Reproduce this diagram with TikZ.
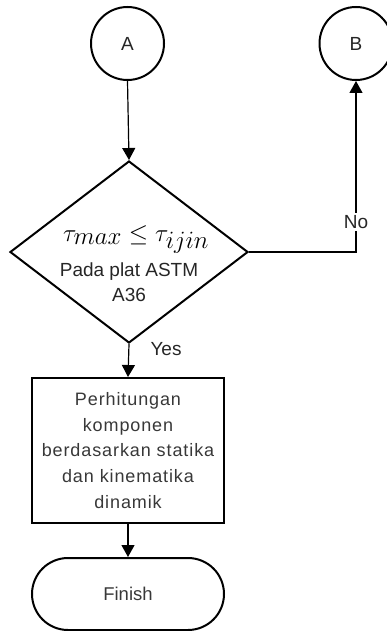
\documentclass[tikz,border=0pt]{standalone}
\usepackage{fontspec}
\setmainfont{Liberation Sans}
\newfontfamily\boxfont[LetterSpace=5]{Liberation Sans}
\usetikzlibrary{shapes.geometric,arrows.meta}
\definecolor{txtgray}{HTML}{383838}
\tikzset{
  shapeline/.style={draw=black,line width=2pt},
  connector/.style={line width=1.2pt,-{Triangle[length=12pt,width=13pt]}},
  connectorcircle/.style={shapeline,circle,minimum size=73pt,inner sep=0pt,
    font=\fontsize{19}{22}\selectfont,text=black!85},
  decision/.style={shapeline,diamond,minimum width=238pt,minimum height=182pt,inner sep=0pt},
  process/.style={shapeline,rectangle,minimum width=192pt,minimum height=145pt,inner sep=0pt,
    align=center,text=txtgray,font=\boxfont\fontsize{18}{25.6}\selectfont},
  terminal/.style={shapeline,rectangle,rounded corners=36pt,minimum width=192pt,minimum height=72pt,
    inner sep=0pt,text=txtgray,font=\fontsize{18.5}{21}\selectfont},
  edgelabel/.style={font=\fontsize{19}{22}\selectfont,text=black!85,inner sep=1pt},
}
\begin{document}
\begin{tikzpicture}[x=1pt,y=-1pt]
  \useasboundingbox (0,0) rectangle (387,631);
  % connectors A and B
  \node[connectorcircle] (A) at (127.5,43.5) {A};
  \node[connectorcircle] (B) at (356,43.5) {B};
  % decision on the shear stress
  \node[decision] (dec) at (129,252) {};
  \node[anchor=base,inner sep=0pt] (cond) at (136,241)
    {\fontsize{36}{40}\selectfont$\tau_{max}\leq\tau_{ijin}$};
  \node[align=center,text=black!85,font=\fontsize{19}{25}\selectfont] (plate) at (129,282)
    {Pada plat ASTM\\A36};
  % calculation step
  \node[process] (calc) at (128,450.5)
    {Perhitungan\\komponen\\berdasarkan statika\\dan kinematika\\dinamik};
  % end of the flow
  \node[terminal] (fin) at (128,594) {Finish};
  % flow lines
  \draw[connector] (A.south) -- (dec.north);
  \draw[connector] (dec.south) -- (calc.north);
  \node[edgelabel] (yes) at (166,349) {Yes};
  \draw[connector] (calc.south) -- (fin.north);
  \draw[connector] (dec.east) -| (B.south);
  \node[edgelabel,fill=white,inner sep=2pt] (no) at (356,222) {No};
\end{tikzpicture}
\end{document}
